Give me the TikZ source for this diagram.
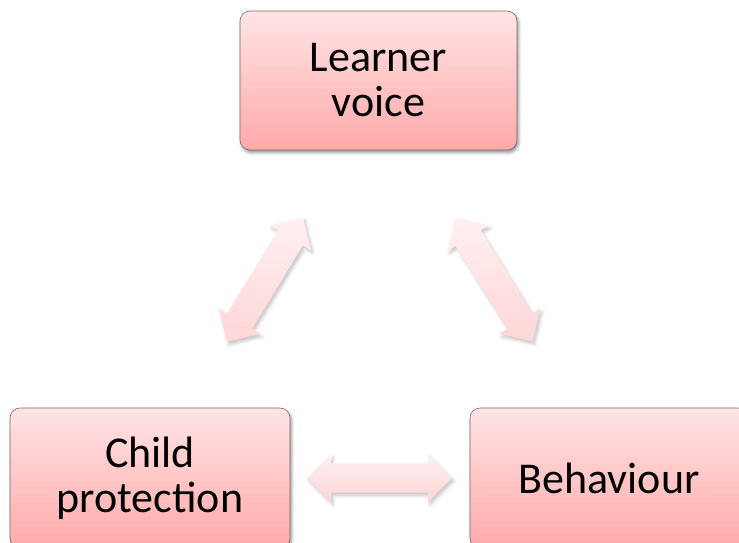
\documentclass[tikz,border=0pt]{standalone}
\usepackage{fontspec}
\setmainfont{Carlito}
\usetikzlibrary{shapes.arrows,shadows.blur,positioning}
\definecolor{boxtop}{HTML}{FFE4E4}
\definecolor{boxbot}{HTML}{FFA9A9}
\definecolor{boxline}{HTML}{7A6666}
\definecolor{arrtop}{HTML}{FFF0F1}
\definecolor{arrbot}{HTML}{FFD6D6}
\tikzset{
	topic/.style={draw=boxline, line width=0.6pt, rounded corners=10pt,
		top color=boxtop, bottom color=boxbot, align=center,
		minimum width=277pt, minimum height=139pt, inner sep=0pt,
		font=\fontsize{44}{45}\selectfont,
		blur shadow={shadow xshift=1.5pt, shadow yshift=-2.5pt, shadow blur radius=3pt, shadow opacity=45}},
	link/.style={double arrow, draw=none, inner sep=14.5pt, double arrow head extend=9.5pt,
		minimum height=146pt, top color=arrtop, bottom color=arrbot, sloped,
		blur shadow={shadow xshift=2pt, shadow yshift=-3pt, shadow blur radius=3pt, shadow opacity=22}}
}
\begin{document}
\begin{tikzpicture}[x=1pt, y=-1pt]
		% frame
		\useasboundingbox (0,0) rectangle (739,542);
		\clip (0,0) rectangle (739,542);
		
		% topics
		\node[topic] (learner) at (378.5,80.5) {Learner\\voice};
		\node[topic, minimum width=280pt, minimum height=140pt] (child) at (150,478) {Child\\protection};
		\node[topic, minimum width=278pt, minimum height=140pt] (behav) at (609,478) {Behaviour};
		
		% arrow ends
		\coordinate (lA) at (227,342);
		\coordinate (lB) at (303,217);
		\coordinate (rA) at (455,217);
		\coordinate (rB) at (533,342);
		\coordinate (hA) at (307,478);
		\coordinate (hB) at (452,478);
		
		% links
		\path (lA) -- node[link] (childlearner) {} (lB);
		\path (rA) -- node[link] (learnerbehav) {} (rB);
		\path (hA) -- node[link, minimum height=145pt] (childbehav) {} (hB);
	\end{tikzpicture}
\end{document}
